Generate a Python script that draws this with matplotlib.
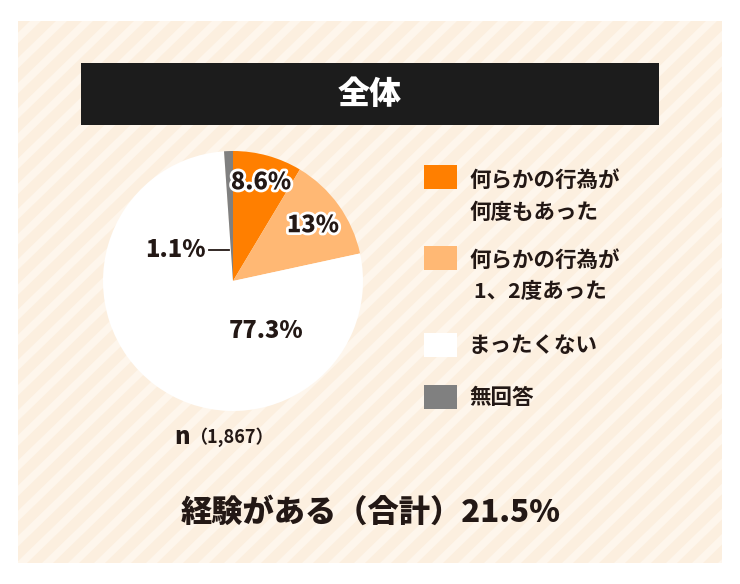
import matplotlib
matplotlib.use("Agg")
import matplotlib.pyplot as plt
import matplotlib.patheffects as pe
from matplotlib.patches import Rectangle, Polygon
import numpy as np

plt.rcParams['font.family'] = ['Noto Sans CJK JP', 'DejaVu Sans']

# data
title = "全体"
labels = ["何らかの行為が\n何度もあった", "何らかの行為が\n 1、2度あった", "まったくない", "無回答"]
values = [8.6, 13.0, 77.3, 1.1]
value_labels = ["8.6%", "13%", "77.3%", "1.1%"]
colors = ["#FF7F00", "#FFB874", "#FFFFFF", "#808080"]
n_text = "（1,867）"
summary = "経験がある（合計）21.5%"

W, H = 740, 584
DARK = "#231815"

fig = plt.figure(figsize=(W / 100, H / 100), dpi=100)
ax = fig.add_axes([0, 0, 1, 1])

def Y(y):  # pixel row -> data y
    return H - y

# background panel with diagonal stripes
px0, px1, py0, py1 = 18, 722, 21, 563
panel = Rectangle((px0, Y(py1)), px1 - px0, py1 - py0, facecolor="#FCEFDF", edgecolor="none", zorder=0)
ax.add_patch(panel)
step = 26
for x in np.arange(px0 - 600, px1 + 50, step):
    stripe = Polygon([(x, Y(py1)), (x + 11, Y(py1)), (x + 11 + 560, Y(py0)), (x + 560, Y(py0))],
                     closed=True, facecolor="#FEF6EC", edgecolor="none", zorder=0.5)
    ax.add_patch(stripe)
    stripe.set_clip_path(panel)

# title bar
ax.add_patch(Rectangle((81, Y(125)), 578, 62, facecolor="#1C1C1C", edgecolor="none", zorder=2))
ax.text(370, Y(94), title, color="white", fontsize=23, fontweight="heavy", ha="center", va="center", zorder=3)

# pie
cx, cy, r = 233, Y(281), 130
ax.pie(values, colors=colors, startangle=90, counterclock=False, center=(cx, cy), radius=r,
       wedgeprops=dict(linewidth=0), frame=True)

stroke = [pe.withStroke(linewidth=4, foreground="white")]
lab_kw = dict(fontsize=17, fontweight="heavy", color=DARK, ha="center", va="center", zorder=5)
ax.text(261, Y(182), value_labels[0], path_effects=stroke, **lab_kw)
ax.text(313, Y(225), value_labels[1], path_effects=stroke, **lab_kw)
ax.text(266, Y(331), value_labels[2], **lab_kw)
ax.text(175, Y(250), value_labels[3], **lab_kw)
ax.plot([209, 229], [Y(250), Y(250)], color=DARK, linewidth=1.3, zorder=5)

# n
ax.text(174, Y(437), "n", fontsize=17, fontweight="heavy", color=DARK, ha="left", va="center")
ax.text(189, Y(437), n_text, fontsize=13, fontweight="bold", color=DARK, ha="left", va="center")

# legend
box_y = [165, 246, 333, 385]
text_y = [196, 276, 345, 397]
for i in range(len(labels)):
    ax.add_patch(Rectangle((424, Y(box_y[i] + 24)), 33, 24, facecolor=colors[i], edgecolor="none", zorder=3))
    ax.text(469, Y(text_y[i]), labels[i], fontsize=15.5, fontweight="bold", color=DARK,
            ha="left", va="center", linespacing=1.65, zorder=3)

# summary
ax.text(371, Y(512), summary, fontsize=22.5, fontweight="heavy", color=DARK, ha="center", va="center")

ax.set_xlim(0, W)
ax.set_ylim(0, H)
ax.set_aspect("auto")
ax.axis("off")

fig.savefig("out.png", dpi=100, facecolor="white")
